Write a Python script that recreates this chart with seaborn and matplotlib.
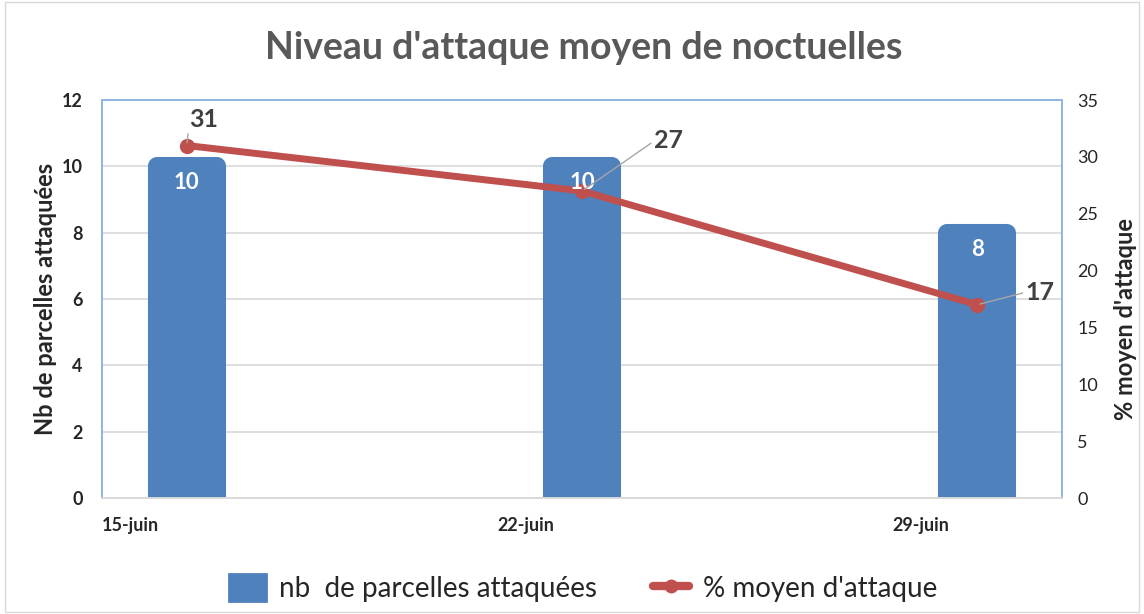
#!/usr/bin/env python3

import pandas as pd
import seaborn as sns
import matplotlib.pyplot as plt
import matplotlib.dates as mdates
from matplotlib.patches import Patch, Rectangle
from matplotlib.lines import Line2D

# data
dates = ['2023-06-16', '2023-06-23', '2023-06-30']
nb_parcelles = [10, 10, 8]
pct_attaque = [31, 27, 17]
tick_dates = ['2023-06-15', '2023-06-22', '2023-06-29']
tick_labels = ['15-juin', '22-juin', '29-juin']

BLUE = '#4F81BD'
RED = '#C0504D'
FONT = ['Lato', 'DejaVu Sans']


def make_plot():
    sns.set_style('white')
    plt.rcParams['font.family'] = FONT

    fig = plt.figure(figsize=(11.44, 6.14), dpi=100)
    ax1 = fig.add_axes([0.0892, 0.1889, 0.8391, 0.6482])
    ax2 = ax1.twinx()

    # Excel date axis: each day is a slot, the point sits in its middle
    x = mdates.date2num(pd.to_datetime(dates)) + 0.5
    x0 = mdates.date2num(pd.to_datetime(tick_dates))

    df = pd.DataFrame({'x': x, 'nb': nb_parcelles, 'pct': pct_attaque})

    sns.barplot(data=df, x='x', y='nb', native_scale=True, ax=ax1,
                color=BLUE, saturation=1, width=1.07 / 7,
                edgecolor=BLUE, linewidth=13, joinstyle='round', zorder=2)
    sns.lineplot(data=df, x='x', y='pct', ax=ax2, color=RED, linewidth=5,
                 marker='o', markersize=11, markeredgewidth=0, zorder=3)

    ax1.set_xlim(x0[0], x0[0] + 17)
    ax1.set_ylim(0, 12)
    ax2.set_ylim(0, 35)
    ax1.set_yticks(range(0, 13, 2))
    ax2.set_yticks(range(0, 36, 5))
    ax1.set_xticks(x0)
    ax1.set_xticklabels(tick_labels, ha='left', fontsize=13, fontweight='bold')
    ax1.tick_params(axis='x', length=5, color='#D9D9D9', pad=9)
    ax1.tick_params(axis='y', length=0, labelsize=13, pad=14)
    for lab in ax1.get_yticklabels():
        lab.set_fontweight('bold')
    ax2.tick_params(axis='y', length=0, labelsize=13, pad=11)

    ax1.grid(axis='y', color='#D9D9D9', linewidth=1.2, zorder=0)
    ax1.set_axisbelow(True)
    ax1.set_xlabel('')
    ax1.set_ylabel('Nb de parcelles attaquées', fontsize=17, fontweight='bold',
                   labelpad=3)
    ax2.set_xlabel('')
    ax2.set_ylabel("% moyen d'attaque", fontsize=17, fontweight='bold',
                   rotation=90)
    ax2.yaxis.set_label_coords(1.054, 0.45)

    for a in (ax1, ax2):
        for side in ('left', 'right', 'top'):
            a.spines[side].set_color('#8EB4E3')
            a.spines[side].set_linewidth(1.2)
        a.spines['bottom'].set_color('#D9D9D9')
        a.spines['bottom'].set_linewidth(1.2)

    # bar labels, drawn on top of the line
    for xi, v in zip(x, nb_parcelles):
        ax2.text(xi, v - 0.5, str(v), transform=ax1.transData, ha='center',
                 va='center', color='white', fontsize=16, fontweight='bold',
                 zorder=5)

    # line labels with leader lines
    offsets = [(2, 19), (52, 36), (35, 9)]
    for xi, v, off in zip(x, pct_attaque, offsets):
        ax2.annotate(str(v), xy=(xi, v), xytext=off, textcoords='offset points',
                     ha='left', va='center', fontsize=18, fontweight='bold',
                     color='#404040', zorder=6,
                     arrowprops=dict(arrowstyle='-', color='#A6A6A6', lw=1,
                                     shrinkA=0, shrinkB=2,
                                     relpos=(0, 0.5)))

    fig.suptitle("Niveau d'attaque moyen de noctuelles", x=0.51, y=0.95,
                 fontsize=27, fontweight='bold', color='#595959')

    handles = [
        Patch(facecolor=BLUE, edgecolor=BLUE, joinstyle='round', linewidth=2),
        Line2D([], [], color=RED, linewidth=6, marker='o', markersize=10,
               markeredgewidth=0),
    ]
    fig.legend(handles, ['nb  de parcelles attaquées', "% moyen d'attaque"],
               loc='center', bbox_to_anchor=(0.51, 0.042), ncol=2, frameon=False,
               fontsize=20, handlelength=1.3, handleheight=1.1,
               columnspacing=2.0, handletextpad=0.5)

    fig.patches.append(Rectangle((0.004, 0.004), 0.992, 0.992,
                                 transform=fig.transFigure, fill=False,
                                 edgecolor='#D9D9D9', linewidth=1))

    plt.savefig('out.png', dpi=100)


if __name__ == '__main__':
    make_plot()
